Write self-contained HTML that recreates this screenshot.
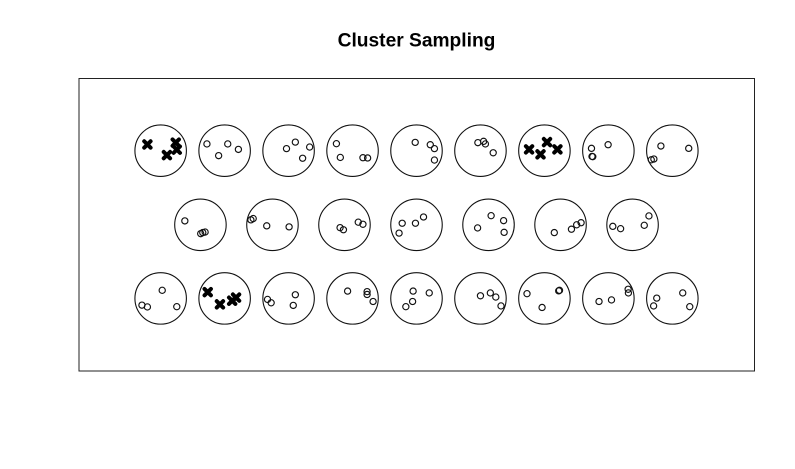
<!DOCTYPE html>
<html lang="en">
<head>
<meta charset="utf-8">
<title>Cluster Sampling</title>
<style>
  html, body { margin: 0; padding: 0; background: #fff; }
  svg { display: block; }
  text { font-family: "Liberation Sans", Arial, sans-serif; }
</style>
</head>
<body>
<svg id="chart" xmlns="http://www.w3.org/2000/svg" width="795" height="469" viewBox="0 0 795 469">
  <rect x="0" y="0" width="795" height="469" fill="#fff"/>
  <text x="416.5" y="46.5" text-anchor="middle" font-size="19.2" font-weight="700" fill="#000">Cluster Sampling</text>
  <rect x="79" y="78.5" width="675.5" height="292.5" fill="none" stroke="#222" stroke-width="1"/>
  <g id="clusters"></g>
</svg>
<script>
// Cluster layout, in units of one cluster radius
const clusterRow = [0,0,0,0,0,0,0,0,0, 1,1,1,1,1,1,1, 2,2,2,2,2,2,2,2,2];
const clusterCol = [-4,-3,-2,-1,0,1,2,3,4, -3,-2,-1,0,1,2,3, -4,-3,-2,-1,0,1,2,3,4];
const rowY = [2.85, 0, -2.83];
const rowSpacing = [2.46, 2.77, 2.46];
// Which clusters were sampled
const sampled = [1,0,0,0,0,0,1,0,0, 0,0,0,0,0,0,0, 0,1,0,0,0,0,0,0,0];
// Point offsets from each cluster's centre
const pointsX = [
  [-0.51,0.58,0.62,0.24],[-0.68,0.12,-0.23,0.53],[-0.08,0.26,0.81,0.54],[-0.62,-0.47,0.40,0.58],
  [-0.05,0.53,0.69,0.69],[-0.10,0.12,0.19,0.49],[-0.59,0.10,-0.15,0.50],[-0.65,-0.01,-0.63,-0.60],
  [-0.44,0.63,-0.81,-0.71],
  [-0.60,0.01,0.09,0.18],[-0.83,-0.74,-0.22,0.64],[-0.17,-0.04,0.53,0.71],[-0.55,-0.67,-0.04,0.27],
  [-0.42,0.10,0.58,0.60],[-0.24,0.42,0.62,0.79],[-0.76,-0.46,0.45,0.63],
  [0.06,-0.72,-0.51,0.62],[-0.65,-0.18,0.29,0.44],[-0.81,-0.67,0.26,0.18],[-0.19,0.56,0.56,0.79],
  [-0.13,0.49,-0.15,-0.41],[0.00,0.38,0.59,0.79],[-0.67,-0.09,0.55,0.58],[-0.36,0.12,0.76,0.77],
  [-0.60,-0.72,0.40,0.67]
];
const pointsY = [
  [0.24,0.31,0.04,-0.17],[0.26,0.26,-0.19,0.05],[0.08,0.33,0.14,-0.29],[0.27,-0.26,-0.27,-0.28],
  [0.32,0.23,0.08,-0.36],[0.31,0.36,0.26,-0.08],[0.05,0.33,-0.14,0.05],[0.09,0.23,-0.22,-0.23],
  [0.18,0.09,-0.35,-0.32],
  [0.15,-0.34,-0.30,-0.28],[0.19,0.24,-0.04,-0.08],[-0.11,-0.19,0.10,0.02],[0.06,-0.32,0.06,0.30],
  [-0.12,0.35,0.16,-0.29],[-0.30,-0.17,0.00,0.08],[-0.06,-0.15,-0.02,0.34],
  [0.31,-0.26,-0.33,-0.32],[0.24,-0.23,-0.09,0.03],[-0.04,-0.17,0.14,-0.27],[0.28,0.26,0.15,-0.12],
  [0.28,0.21,-0.12,-0.32],[0.10,0.21,0.05,-0.29],[0.18,-0.35,0.29,0.31],[-0.12,-0.06,0.35,0.21],
  [0.01,-0.29,0.21,-0.32]
];

const SVG_NS = 'http://www.w3.org/2000/svg';
const unit = 26;
const originX = 416.5;
const originY = 224.8;
const xScale = v => originX + v * unit;
const yScale = v => originY - v * unit;
const root = document.getElementById('clusters');

clusterRow.forEach((row, i) => {
  const cx = clusterCol[i] * rowSpacing[row];
  const cy = rowY[row];

  const ring = document.createElementNS(SVG_NS, 'circle');
  
  
  ring.setAttribute('cx', xScale(cx));
  ring.setAttribute('cy', yScale(cy));
  ring.setAttribute('r', unit * 0.99);
  ring.setAttribute('fill', 'none');
  ring.setAttribute('stroke', '#111');
  ring.setAttribute('stroke-width', '1.1');
  root.appendChild(ring);

  pointsX[i].forEach((px, j) => {
    const x = xScale(cx + px);
    const y = yScale(cy + pointsY[i][j]);
    if (sampled[i]) {
      const cross = document.createElementNS(SVG_NS, 'path');
      
      
      const a = 3.2;
      cross.setAttribute('d', 'M' + (x - a) + ' ' + (y - a) + 'L' + (x + a) + ' ' + (y + a) + 'M' + (x - a) + ' ' + (y + a) + 'L' + (x + a) + ' ' + (y - a));
      cross.setAttribute('stroke', '#000');
      cross.setAttribute('stroke-width', '4');
      cross.setAttribute('stroke-linecap', 'round');
      cross.setAttribute('fill', 'none');
      root.appendChild(cross);
    } else {
      const dot = document.createElementNS(SVG_NS, 'circle');
      
      
      dot.setAttribute('cx', x);
      dot.setAttribute('cy', y);
      dot.setAttribute('r', 3.1);
      dot.setAttribute('fill', 'none');
      dot.setAttribute('stroke', '#111');
      dot.setAttribute('stroke-width', '1.15');
      root.appendChild(dot);
    }
  });
});
</script>
</body>
</html>
